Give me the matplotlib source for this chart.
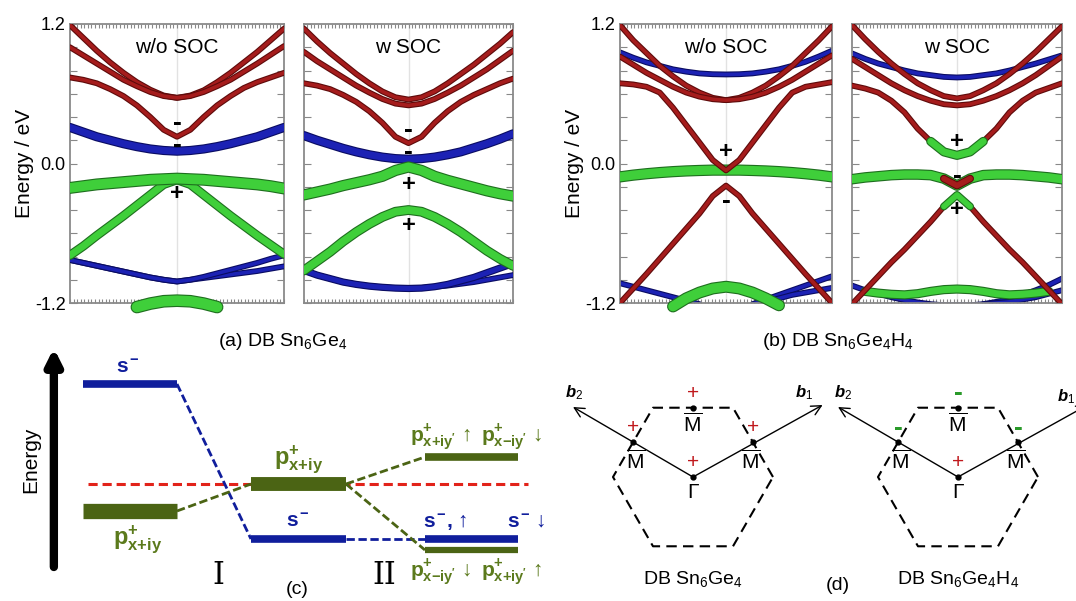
import numpy as np
import matplotlib
matplotlib.use("Agg")
import matplotlib.pyplot as plt
import matplotlib.patheffects as pe

plt.rcParams['font.family'] = ['Liberation Sans', 'DejaVu Sans']
plt.rcParams['mathtext.fontset'] = 'custom'
plt.rcParams['mathtext.rm'] = 'Liberation Sans'
plt.rcParams['mathtext.it'] = 'Liberation Sans:bold:italic'
plt.rcParams['mathtext.bf'] = 'Liberation Sans:bold'

nan = np.nan

# k path M - Gamma - M
k = np.array([-1.0, -0.875, -0.75, -0.625, -0.5, -0.375, -0.25, -0.125, 0.0,
              0.125, 0.25, 0.375, 0.5, 0.625, 0.75, 0.875, 1.0])

# ---- (a) DB Sn6Ge4, without SOC
a0_red1 = [1.19, 1.08, 0.97, 0.87, 0.78, 0.70, 0.635, 0.585, 0.565, 0.585, 0.63, 0.70, 0.78, 0.87, 0.96, 1.06, 1.16]
a0_red2 = [1.00, 0.93, 0.86, 0.79, 0.72, 0.665, 0.615, 0.58, 0.565, 0.58, 0.615, 0.665, 0.72, 0.79, 0.86, 0.935, 1.01]
a0_red3 = [0.74, 0.72, 0.69, 0.64, 0.58, 0.50, 0.40, 0.29, 0.23, 0.29, 0.40, 0.50, 0.58, 0.65, 0.70, 0.74, 0.78]
a0_blue1 = [0.31, 0.27, 0.23, 0.20, 0.17, 0.145, 0.125, 0.112, 0.106, 0.112, 0.125, 0.145, 0.17, 0.20, 0.23, 0.27, 0.31]
a0_green1 = [-0.21, -0.195, -0.18, -0.17, -0.16, -0.15, -0.14, -0.135, -0.13, -0.135, -0.14, -0.15, -0.16, -0.17, -0.18, -0.195, -0.215]
a0_green2 = [-0.79, -0.71, -0.62, -0.535, -0.45, -0.36, -0.27, -0.18, -0.14, -0.18, -0.27, -0.36, -0.45, -0.535, -0.62, -0.70, -0.78]
a0_blue2 = [-0.83, -0.855, -0.88, -0.905, -0.93, -0.955, -0.98, -1.0, -1.015, -1.0, -0.975, -0.945, -0.915, -0.885, -0.855, -0.82, -0.79]
a0_blue3 = [-0.83, -0.855, -0.88, -0.905, -0.93, -0.955, -0.98, -1.0, -1.015, -1.0, -0.985, -0.97, -0.955, -0.94, -0.925, -0.905, -0.885]
a0_green3 = [nan, nan, nan, nan, nan, -1.235, -1.205, -1.185, -1.18, -1.185, -1.205, -1.235, nan, nan, nan, nan, nan]

# ---- (a) DB Sn6Ge4, with SOC
a1_red1 = [1.16, 1.05, 0.95, 0.86, 0.77, 0.69, 0.62, 0.57, 0.55, 0.57, 0.62, 0.69, 0.77, 0.85, 0.94, 1.03, 1.13]
a1_red2 = [0.96, 0.88, 0.81, 0.74, 0.67, 0.61, 0.555, 0.515, 0.50, 0.515, 0.555, 0.61, 0.67, 0.74, 0.81, 0.89, 0.97]
a1_red3 = [0.69, 0.67, 0.64, 0.59, 0.53, 0.45, 0.35, 0.23, 0.175, 0.23, 0.35, 0.45, 0.53, 0.59, 0.64, 0.69, 0.73]
a1_blue1 = [0.24, 0.20, 0.165, 0.13, 0.10, 0.075, 0.055, 0.042, 0.037, 0.042, 0.055, 0.075, 0.10, 0.135, 0.17, 0.21, 0.255]
a1_green1 = [-0.27, -0.245, -0.22, -0.19, -0.165, -0.14, -0.11, -0.06, -0.03, -0.06, -0.11, -0.145, -0.175, -0.205, -0.235, -0.26, -0.28]
a1_green2 = [-0.92, -0.84, -0.76, -0.67, -0.59, -0.52, -0.46, -0.415, -0.40, -0.415, -0.46, -0.52, -0.59, -0.67, -0.75, -0.82, -0.88]
a1_blue2 = [-0.92, -0.96, -0.99, -1.02, -1.04, -1.055, -1.065, -1.072, -1.075, -1.072, -1.06, -1.04, -1.01, -0.98, -0.94, -0.90, -0.86]
a1_blue3 = [-0.92, -0.96, -0.99, -1.02, -1.04, -1.055, -1.065, -1.072, -1.075, -1.07, -1.06, -1.05, -1.035, -1.02, -1.0, -0.98, -0.96]

# ---- (b) DB Sn6Ge4H4, without SOC
b0_red1 = [1.19, 1.06, 0.95, 0.84, 0.75, 0.67, 0.61, 0.565, 0.545, 0.565, 0.61, 0.67, 0.75, 0.84, 0.95, 1.06, 1.18]
b0_red2 = [0.92, 0.85, 0.78, 0.72, 0.66, 0.61, 0.575, 0.553, 0.545, 0.553, 0.575, 0.61, 0.66, 0.72, 0.79, 0.86, 0.93]
b0_red3 = [0.69, 0.68, 0.66, 0.61, 0.48, 0.33, 0.18, 0.03, -0.06, 0.03, 0.18, 0.33, 0.48, 0.61, 0.66, 0.68, 0.70]
b0_red4 = [-1.2, -1.075, -0.95, -0.82, -0.69, -0.56, -0.43, -0.28, -0.19, -0.28, -0.43, -0.56, -0.69, -0.82, -0.95, -1.075, -1.2]
b0_blue1 = [0.956, 0.91, 0.87, 0.84, 0.81, 0.79, 0.775, 0.768, 0.766, 0.768, 0.775, 0.79, 0.81, 0.84, 0.875, 0.92, 0.97]
b0_green1 = [-0.115, -0.10, -0.088, -0.078, -0.07, -0.064, -0.06, -0.057, -0.057, -0.057, -0.06, -0.064, -0.07, -0.078, -0.088, -0.10, -0.115]
b0_blue2 = [-1.03, -1.06, -1.09, -1.12, -1.15, -1.18, -1.21, nan, nan, nan, -1.21, -1.17, -1.13, -1.09, -1.05, -1.01, -0.97]
b0_blue3 = [nan, nan, nan, nan, nan, nan, nan, nan, nan, nan, nan, -1.19, -1.16, -1.13, -1.11, -1.09, -1.07]
b0_green2 = [nan, nan, nan, nan, -1.23, -1.16, -1.11, -1.075, -1.06, -1.075, -1.11, -1.16, -1.22, nan, nan, nan, nan]

# ---- (b) DB Sn6Ge4H4, with SOC
b1_red1 = [1.19, 1.07, 0.96, 0.86, 0.77, 0.69, 0.63, 0.58, 0.56, 0.58, 0.63, 0.69, 0.77, 0.86, 0.96, 1.07, 1.18]
b1_red2 = [0.90, 0.83, 0.76, 0.69, 0.63, 0.58, 0.54, 0.51, 0.50, 0.51, 0.54, 0.58, 0.63, 0.69, 0.76, 0.84, 0.92]
b1_red3 = [0.67, 0.645, 0.61, 0.54, 0.44, 0.30, 0.19, 0.10, 0.07, 0.10, 0.19, 0.30, 0.44, 0.54, 0.61, 0.65, 0.69]
b1_red4 = [-1.21, -1.09, -0.97, -0.85, -0.74, -0.62, -0.50, -0.37, -0.27, -0.37, -0.50, -0.62, -0.74, -0.85, -0.97, -1.09, -1.21]
b1_blue1 = [0.947, 0.90, 0.86, 0.83, 0.80, 0.775, 0.76, 0.745, 0.74, 0.745, 0.76, 0.775, 0.80, 0.83, 0.86, 0.895, 0.93]
b1_green1 = [-0.135, -0.12, -0.11, -0.10, -0.095, -0.095, -0.10, -0.13, -0.19, -0.13, -0.10, -0.095, -0.095, -0.10, -0.11, -0.12, -0.135]
b1_blue2 = [-1.05, -1.09, -1.12, -1.15, -1.175, -1.195, -1.21, -1.22, -1.22, -1.22, -1.21, -1.19, -1.165, -1.13, -1.09, -1.045, -0.99]
b1_blue3 = [nan, nan, nan, nan, nan, nan, nan, nan, nan, nan, -1.21, -1.20, -1.19, -1.17, -1.15, -1.12, -1.09]
b1_green2 = [nan, -1.10, -1.115, -1.125, -1.13, -1.12, -1.10, -1.085, -1.08, -1.085, -1.10, -1.12, -1.13, -1.125, -1.115, -1.10, nan]

# parity labels at Gamma: (sign, energy)
a0_signs = [('-', 0.345), ('-', 0.16), ('+', -0.26)]
a1_signs = [('-', 0.29), ('-', 0.10), ('+', -0.18), ('+', -0.53)]
b0_signs = [('+', 0.10), ('-', -0.32)]
b1_signs = [('+', 0.19), ('-', -0.11), ('+', -0.40)]

# ---- (c) level scheme (energies relative to the red dashed line)
fermi = 0.0
s_top, p_left = 1.0, -0.27
p_mid, s_mid = 0.0, -0.55
p_up, s_right, p_low = 0.27, -0.55, -0.66

# ---- (d) Brillouin zone
hex_x = [1.0, 0.5, -0.5, -1.0, -0.5, 0.5, 1.0]
hex_y = [0.0, 0.866, 0.866, 0.0, -0.866, -0.866, 0.0]
m_pts = [(0.0, 0.866), (-0.75, 0.433), (0.75, 0.433)]
b1_tip = (1.62, 0.90)
b2_tip = (-1.50, 0.875)
d_signs_left = ['+', '+', '+', '+']    # top M, left M, right M, Gamma
d_signs_right = ['-', '-', '-', '+']

RED, RED_E = '#a51c1c', '#5e0b0b'
BLUE, BLUE_E = '#1c22b4', '#0a0c62'
GREEN, GREEN_E = '#3fcf3a', '#1e6e1e'

W, H = 1076, 601
fig = plt.figure(figsize=(W / 100, H / 100), dpi=100)


def px_axes(x0, y0, x1, y1):
    return fig.add_axes([x0 / W, 1 - y1 / H, (x1 - x0) / W, (y1 - y0) / H])


def band(ax, e, color, edge, lw, z, sl=slice(None), clip=True):
    e = np.array(e, dtype=float)
    ax.plot(k[sl], e[sl], color=color, lw=lw, zorder=z, clip_on=clip,
            solid_capstyle='round',
            path_effects=[pe.Stroke(linewidth=lw + 1.6, foreground=edge), pe.Normal()])


def style_band_axes(ax, title, labels):
    ax.set_xlim(-1, 1)
    ax.set_ylim(-1.2, 1.2)
    ax.axvline(0, color='#e2e2e2', lw=1, zorder=0)
    yt = np.round(np.arange(-1.2, 1.21, 0.2), 1)
    ax.set_yticks(yt)
    if labels:
        ax.set_yticklabels(['-1.2' if v == -1.2 else '0.0' if v == 0 else '1.2' if v == 1.2 else '' for v in yt],
                           fontsize=13)
        ax.set_ylabel('Energy / eV', fontsize=15, labelpad=1)
    else:
        ax.set_yticklabels([])
    ax.set_xticks(np.linspace(-1, 1, 61))
    ax.set_xticklabels([])
    ax.tick_params(axis='y', direction='in', length=5, width=0.8, color='#888888',
                   left=True, right=True, pad=3)
    ax.tick_params(axis='x', direction='in', length=3, width=0.8, color='#888888',
                   top=True, bottom=True)
    for s in ax.spines.values():
        s.set_color('#8a8a8a')
        s.set_linewidth(1.3)
    ax.text(0.5, 0.915, title, transform=ax.transAxes, ha='center', va='center', fontsize=15)


def signs(ax, lst):
    for s, e in lst:
        if s == '-':
            ax.text(0, e, '-', ha='center', va='center', fontsize=19, fontweight='bold', zorder=10)
        else:
            ax.text(0, e, s, ha='center', va='center', fontsize=17, fontweight='bold', zorder=10)


# ---------- panel (a)
ax = px_axes(70, 24, 284, 303)
style_band_axes(ax, 'w/o SOC', True)
for e in (a0_red1, a0_red2, a0_red3):
    band(ax, e, RED, RED_E, 2.6, 3)
band(ax, a0_blue1, BLUE, BLUE_E, 5.0, 3)
band(ax, a0_blue3, BLUE, BLUE_E, 2.6, 3)
band(ax, a0_blue2, BLUE, BLUE_E, 2.6, 3)
band(ax, a0_green2, GREEN, GREEN_E, 5.0, 4)
band(ax, a0_green1, GREEN, GREEN_E, 7.0, 5)
band(ax, a0_green3, GREEN, GREEN_E, 7.5, 5, clip=False)
signs(ax, a0_signs)

ax = px_axes(304, 24, 513, 303)
style_band_axes(ax, 'w SOC', False)
for e in (a1_red1, a1_red2, a1_red3):
    band(ax, e, RED, RED_E, 2.6, 3)
band(ax, a1_blue1, BLUE, BLUE_E, 5.0, 3)
band(ax, a1_blue3, BLUE, BLUE_E, 2.6, 3)
band(ax, a1_blue2, BLUE, BLUE_E, 3.6, 3)
band(ax, a1_green2, GREEN, GREEN_E, 5.5, 4)
band(ax, a1_green1, GREEN, GREEN_E, 6.5, 5)
signs(ax, a1_signs)

# ---------- panel (b)
ax = px_axes(620, 24, 832, 303)
style_band_axes(ax, 'w/o SOC', True)
band(ax, b0_blue1, BLUE, BLUE_E, 2.6, 2)
band(ax, b0_blue2, BLUE, BLUE_E, 2.6, 2)
band(ax, b0_blue3, BLUE, BLUE_E, 2.6, 2)
band(ax, b0_green1, GREEN, GREEN_E, 6.5, 3)
for e in (b0_red1, b0_red2, b0_red3, b0_red4):
    band(ax, e, RED, RED_E, 2.6, 4)
band(ax, b0_green2, GREEN, GREEN_E, 7.0, 5, clip=False)
signs(ax, b0_signs)

ax = px_axes(852, 24, 1062, 303)
style_band_axes(ax, 'w SOC', False)
band(ax, b1_blue1, BLUE, BLUE_E, 2.6, 2)
band(ax, b1_blue2, BLUE, BLUE_E, 2.6, 2)
band(ax, b1_blue3, BLUE, BLUE_E, 2.6, 2)
band(ax, b1_green1, GREEN, GREEN_E, 6.0, 3)
band(ax, b1_green2, GREEN, GREEN_E, 5.0, 3)
for e in (b1_red1, b1_red2, b1_red3, b1_red4):
    band(ax, e, RED, RED_E, 2.6, 4)
band(ax, b1_red3, GREEN, GREEN_E, 5.0, 5, sl=slice(6, 11))
band(ax, b1_red4, GREEN, GREEN_E, 4.0, 5, sl=slice(7, 10))
band(ax, b1_green1, RED, RED_E, 4.0, 5, sl=slice(7, 10))
signs(ax, b1_signs)

fig.text(283 / W, 1 - 341 / H, r'(a) DB Sn$_6$Ge$_4$', ha='center', va='center', fontsize=14)
fig.text(838 / W, 1 - 341 / H, r'(b) DB Sn$_6$Ge$_4$H$_4$', ha='center', va='center', fontsize=14)

# ---------- panel (c)
axc = px_axes(0, 340, 540, 601)
axc.set_xlim(-0.883, 4.862)
axc.set_ylim(-1.17, 1.44)
axc.axis('off')
CB, CG, CR, CT = '#101e9c', '#4b6414', '#e2231a', '#5b7a1c'
col1, col2, col3 = (0.0, 1.0), (1.787, 2.798), (3.638, 4.628)

axc.plot([0.05, 4.73], [fermi, fermi], ls=(0, (3, 1.6)), color=CR, lw=2.2, zorder=1)
axc.plot(col1, [s_top] * 2, color=CB, lw=5.5, solid_capstyle='butt', zorder=3)
axc.plot(col1, [p_left] * 2, color=CG, lw=11, solid_capstyle='butt', zorder=3)
axc.plot(col2, [p_mid] * 2, color=CG, lw=10, solid_capstyle='butt', zorder=3)
axc.plot(col2, [s_mid] * 2, color=CB, lw=5.5, solid_capstyle='butt', zorder=3)
axc.plot(col3, [p_up] * 2, color=CG, lw=5.5, solid_capstyle='butt', zorder=3)
axc.plot(col3, [s_right] * 2, color=CB, lw=5.5, solid_capstyle='butt', zorder=4)
axc.plot(col3, [p_low] * 2, color=CG, lw=4.5, solid_capstyle='butt', zorder=3)
dash = dict(ls=(0, (3, 1.3)), lw=2.0, zorder=2)
axc.plot([col1[1], col2[0]], [s_top, s_mid], color=CB, **dash)
axc.plot([col1[1], col2[0]], [p_left, p_mid], color=CG, **dash)
axc.plot([col2[1], col3[0]], [s_mid, s_right], color=CB, **dash)
axc.plot([col2[1], col3[0]], [p_mid, p_up], color=CG, **dash)
axc.plot([col2[1], col3[0]], [p_mid, p_low], color=CG, **dash)

axc.annotate('', xy=(-0.31, 1.36), xytext=(-0.31, -0.83),
             arrowprops=dict(arrowstyle='-|>,head_width=0.45,head_length=0.9', lw=6, color='black',
                             shrinkA=0, shrinkB=0))
axc.text(-0.56, 0.24, 'Energy', rotation=90, ha='center', va='center', fontsize=15)

sminus = r'$\mathbf{s}^{\,\mathbf{-}}$'
pxy = r'$\mathbf{p}^{\mathbf{+}}_{\mathbf{x{+}iy}}$'
axc.text(0.48, 1.17, sminus, color=CB, ha='center', va='center', fontsize=15)
axc.text(0.585, -0.56, pxy, color=CT, ha='center', va='center', fontsize=17)
axc.text(2.29, 0.24, pxy, color=CT, ha='center', va='center', fontsize=17)
axc.text(2.29, -0.36, sminus, color=CB, ha='center', va='center', fontsize=15)
axc.text(3.80, 0.47, r"$\mathbf{p}^{\mathbf{+}}_{\mathbf{x{+}iy'}}$ ↑", color=CT, ha='center', va='center', fontsize=15)
axc.text(4.56, 0.47, r"$\mathbf{p}^{\mathbf{+}}_{\mathbf{x{-}iy'}}$ ↓", color=CT, ha='center', va='center', fontsize=15)
axc.text(3.80, -0.88, r"$\mathbf{p}^{\mathbf{+}}_{\mathbf{x{-}iy'}}$ ↓", color=CT, ha='center', va='center', fontsize=15)
axc.text(4.56, -0.88, r"$\mathbf{p}^{\mathbf{+}}_{\mathbf{x{+}iy'}}$ ↑", color=CT, ha='center', va='center', fontsize=15)
axc.text(3.85, -0.37, sminus + r'$\mathbf{,}$ ↑', color=CB, ha='center', va='center', fontsize=15)
axc.text(4.72, -0.37, sminus + ' ↓', color=CB, ha='center', va='center', fontsize=15)
axc.text(1.436, -0.92, 'I', family='DejaVu Serif', ha='center', va='center', fontsize=22)
axc.text(3.21, -0.92, 'II', family='DejaVu Serif', ha='center', va='center', fontsize=22)
axc.text(2.28, -1.06, '(c)', ha='center', va='center', fontsize=14)

# ---------- panel (d)
axd = px_axes(540, 340, 1076, 601)
axd.set_xlim(-1.9125, 4.7875)
axd.set_ylim(-1.55, 1.7125)
axd.axis('off')
for x0, sg, scol in ((0.0, d_signs_left, ['#c0181c'] * 4),
                     (3.3125, d_signs_right, ['#2a9a2a'] * 3 + ['#c0181c'])):
    axd.plot(np.array(hex_x) + x0, hex_y, ls=(0, (5, 3)), color='black', lw=1.5, zorder=1)
    for tip in (b1_tip, b2_tip):
        axd.annotate('', xy=(tip[0] + x0, tip[1]), xytext=(x0, 0), annotation_clip=False,
                     arrowprops=dict(arrowstyle='->,head_width=0.35,head_length=0.7', lw=1.0,
                                     color='black', shrinkA=0, shrinkB=0))
    pts = m_pts + [(0.0, 0.0)]
    for (mx, my), s, c in zip(pts, sg, scol):
        axd.plot(mx + x0, my, 'o', color='black', ms=3.5, zorder=3)
        if s == '-':
            axd.text(mx + x0, my + 0.18, '-', color=c, ha='center', va='center', fontsize=19,
                     fontweight='bold')
        else:
            axd.text(mx + x0, my + 0.18, s, color=c, ha='center', va='center', fontsize=15)
    axd.text(x0, 0.866 - 0.2, r'$\overline{\mathrm{M}}$', ha='center', va='center', fontsize=15)
    axd.text(x0 - 0.72, 0.433 - 0.24, r'$\overline{\mathrm{M}}$', ha='center', va='center', fontsize=15)
    axd.text(x0 + 0.72, 0.433 - 0.24, r'$\overline{\mathrm{M}}$', ha='center', va='center', fontsize=15)
    axd.text(x0, -0.2, 'Γ', ha='center', va='center', fontsize=15)

bl = r'$b_{\mathit{%d}}$'
axd.text(-1.49, 1.06, bl % 2, ha='center', va='center', fontsize=12)
axd.text(1.39, 1.06, bl % 1, ha='center', va='center', fontsize=12)
axd.text(1.875, 1.06, bl % 2, ha='center', va='center', fontsize=12)
axd.text(4.66, 1.0, bl % 1, ha='center', va='center', fontsize=12)
axd.text(0.0, -1.27, r'DB Sn$_6$Ge$_4$', ha='center', va='center', fontsize=14)
axd.text(1.81, -1.35, '(d)', ha='center', va='center', fontsize=14)
axd.text(3.3125, -1.27, r'DB Sn$_6$Ge$_4$H$_4$', ha='center', va='center', fontsize=14)

fig.savefig('out.png', dpi=100)
